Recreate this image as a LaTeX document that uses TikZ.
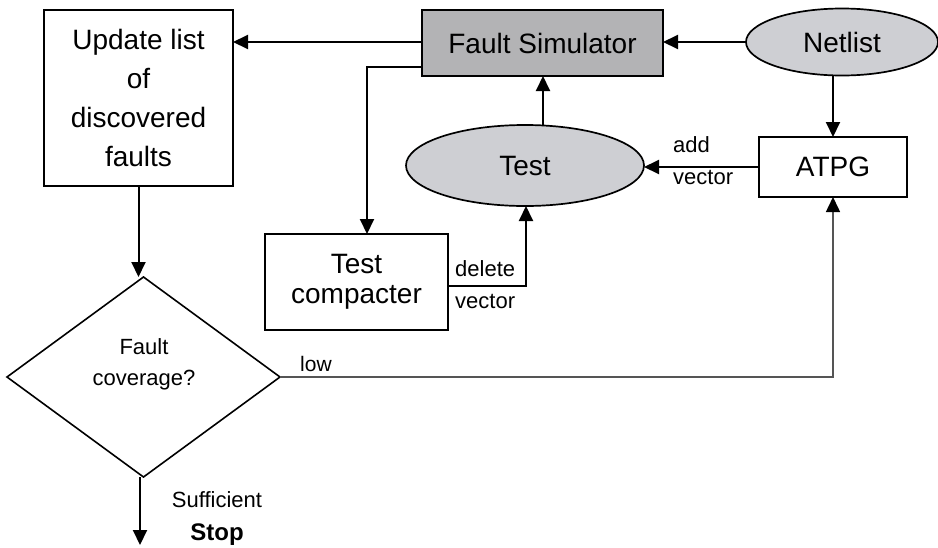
\documentclass[tikz,border=0pt]{standalone}
\usepackage{fontspec}
\setmainfont{Liberation Sans}
\usetikzlibrary{shapes.geometric,arrows.meta,calc}
\definecolor{simgray}{RGB}{179,179,181}
\definecolor{ovalgray}{RGB}{206,207,211}
\definecolor{lowgray}{RGB}{85,85,85}
\begin{document}
\begin{tikzpicture}[x=1pt,y=-1pt,
  big/.style={font=\fontsize{28}{34}\selectfont},
  box/.style={draw=black,line width=2pt,inner sep=0pt,outer sep=0pt},
  oval/.style={ellipse,draw=black,line width=1.7pt,fill=ovalgray,inner sep=0pt,outer sep=0pt},
  flow/.style={line width=2pt,-{Triangle[length=15pt,width=14pt]}},
  lowpath/.style={draw=lowgray,line width=1.5pt,-{Triangle[length=15pt,width=14pt,color=black]}},
  lbl/.style={font=\fontsize{22}{26}\selectfont,inner sep=0pt}
]
\useasboundingbox (0,0) rectangle (938,547);

% blocks
\node[box,minimum width=189pt,minimum height=176pt,align=center,
      font=\fontsize{28}{39}\selectfont] (upd) at (138.5,98) {Update list\\of\\discovered\\faults};
\node[box,fill=simgray,minimum width=241pt,minimum height=66pt,big] (fs) at (542.5,43) {Fault Simulator};
\node[oval,minimum width=192pt,minimum height=67pt,big] (net) at (842,42) {Netlist};
\node[oval,minimum width=238pt,minimum height=81pt,big] (test) at (525,165.5) {Test};
\node[box,minimum width=148pt,minimum height=60pt,big] (atpg) at (833,167) {ATPG};
\node[box,minimum width=183pt,minimum height=96pt,align=center,
      font=\fontsize{28}{30}\selectfont] (cmp) at (356.5,282) {Test\\compacter};
\node[diamond,draw=black,line width=1.6pt,minimum width=273pt,minimum height=200pt,
      inner sep=0pt,outer sep=0pt] (cov) at (143.5,377) {};
\node[align=center,inner sep=0pt,font=\fontsize{22}{31}\selectfont] (covtxt) at (144,364) {Fault\\coverage?};

% helper points
\coordinate (drop) at (367,67);
\coordinate (tup) at ($(test.north)+(18,0)$);
\coordinate (del) at (526,286);
\coordinate (stop) at (140,545);
\coordinate (fsin) at (0,42);

% connectors
\draw[flow] (fs.west |- fsin) -- (upd.east |- fsin);
\draw[flow] (fs.west |- drop) -- (drop) -- (drop |- cmp.north);
\draw[flow] (net.west) -- (fs.east |- net.west);
\draw[flow] (net.south -| atpg.north) -- (atpg.north);
\draw[flow] (atpg.west) -- (test.east |- atpg.west);
\draw[flow] (tup) -- (tup |- fs.south);
\draw[flow] (cmp.east |- del) -- (del) -- (del |- test.south);
\draw[flow] (upd.south) -- (upd.south |- cov.north);
\draw[flow] (cov.south -| stop) -- (stop);
\draw[lowpath] (cov.east) -| (atpg.south);

% edge labels
\node[lbl,anchor=base west] (addl) at (673,152) {add};
\node[lbl,anchor=base west] (addv) at (673,184) {vector};
\node[lbl,anchor=base west] (dell) at (455,276) {delete};
\node[lbl,anchor=base west] (delv) at (455,308) {vector};
\node[lbl,anchor=base west,font=\fontsize{21}{25}\selectfont] (low) at (300,371) {low};
\node[lbl,anchor=base] (suf) at (217,507) {Sufficient};
\node[lbl,anchor=base,font=\fontsize{24}{28}\selectfont\bfseries] (stp) at (217,540) {Stop};
\end{tikzpicture}
\end{document}
